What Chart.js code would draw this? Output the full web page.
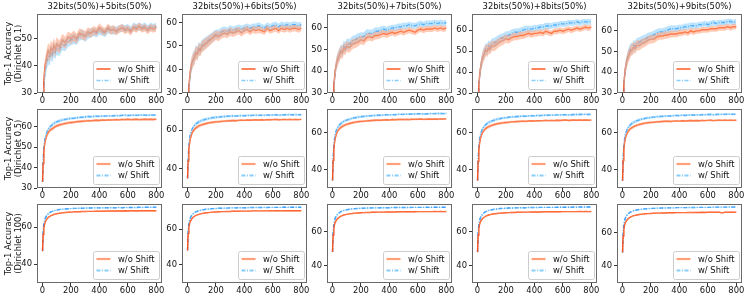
<!DOCTYPE html>
<html>
<head>
<meta charset="utf-8">
<script src="https://cdn.jsdelivr.net/npm/chart.js@4.4.0/dist/chart.umd.min.js"></script>
<style>
  body { margin: 0; background: #fff; width: 747px; height: 299px; position: relative; overflow: hidden; }
  canvas { position: absolute; }
</style>
</head>
<body>
<script>
// epochs sampled from the curves
const EPOCHS = [1, 5, 10, 15, 20, 30, 40, 50, 60, 70, 80, 90, 100,
  120, 140, 160, 180, 200, 220, 240, 260, 280, 300,
  320, 340, 360, 380, 400, 420, 440, 460, 480, 500,
  520, 540, 560, 580, 600, 620, 640, 660, 680, 700,
  720, 740, 760, 780, 800];

const TITLES = ['32bits(50%)+5bits(50%)', '32bits(50%)+6bits(50%)', '32bits(50%)+7bits(50%)',
  '32bits(50%)+8bits(50%)', '32bits(50%)+9bits(50%)'];
const ROW_LABELS = ['(Dirichlet 0.1)', '(Dirichlet 0.5)', '(Dirichlet 100)'];
const X_TICKS = [0, 200, 400, 600, 800];

// ---- Dirichlet 0.1 ----
const R1C1_WO = [22, 29, 34, 38, 40.5, 43, 45.5, 44.5, 46.5, 45.5, 47.5, 46, 48,
  47, 49.5, 48.5, 50.5, 50, 51, 50, 52, 51.5, 51,
  52.5, 52, 53, 52.5, 54, 53, 52.5, 54, 53, 53.5,
  52.5, 53.5, 54, 53, 53.5, 52.5, 54, 53.5, 54.5, 53.5,
  54, 53, 54, 53.5, 54];
const R1C1_WS = [21, 27.5, 32, 36, 38.5, 41.5, 43.5, 43, 45, 44, 46, 45, 46.5,
  46, 48, 47.5, 49, 49.5, 50, 49.5, 51, 51.5, 50.5,
  51.5, 52, 52.5, 52, 53, 52.5, 52, 53.5, 53, 53,
  53, 53.5, 54, 53.5, 54, 53, 54.5, 54, 54.5, 54,
  54.5, 53.5, 54.5, 54, 54.5];
const R1C2_WO = [20, 27, 32, 36, 39, 42.5, 44, 45, 47, 46.5, 48.5, 48, 49.5,
  50.5, 51.5, 52.5, 53.5, 54.5, 54, 55, 55.5, 55, 56,
  55.5, 56, 56.5, 55.5, 56.5, 57, 56, 57, 56.5, 57,
  56.5, 56, 57.5, 56.5, 57, 57.5, 56.5, 57.5, 57, 57.5,
  57, 57.5, 57.5, 57, 57.5];
const R1C2_WS = [19, 26, 31, 35, 38.5, 42, 44.5, 45.5, 47.5, 47, 49, 48.5, 50,
  51, 52, 53, 54, 55, 55, 56, 56.5, 56, 57,
  56.5, 57, 57.5, 57, 57.5, 58, 57.5, 58, 58, 58.5,
  58, 57.5, 58.5, 58, 58.5, 59, 58, 59, 58.5, 59,
  58.5, 59, 59, 58.5, 59];
const R1C3_WO = [20, 28, 33, 37, 40.5, 44, 46, 47.5, 49, 48.5, 50.5, 50, 51.5,
  51, 52.5, 53, 53.5, 54.5, 54, 55.5, 56, 55.5, 56.5,
  56.5, 57, 57.5, 57, 57.5, 58, 57.5, 58, 58.5, 58,
  58.5, 59, 58.5, 58, 59, 59.5, 59, 59.5, 59.5, 59.5,
  60, 59.5, 60, 59.5, 60];
const R1C3_WS = [19, 27, 32, 36.5, 40, 44, 46.5, 48, 49.5, 49.5, 51.5, 51, 52.5,
  52.5, 54, 54.5, 55.5, 56, 56, 57.5, 57.5, 57.5, 58.5,
  58.5, 59, 59.5, 59, 59.5, 60, 60, 60.5, 60.5, 61,
  61, 61.5, 61, 61, 61.5, 62, 61.5, 62, 62, 62,
  62.5, 62, 62.5, 62, 62.5];
const R1C4_WO = [20, 28, 33.5, 38, 41, 45, 47.5, 49, 50.5, 50, 51.5, 51, 52.5,
  52.5, 53.5, 54.5, 55, 56, 55.5, 56.5, 57, 57, 57.5,
  57.5, 58, 58.5, 58, 58.5, 58.5, 59, 58.5, 59.5, 59,
  58.5, 59.5, 59.5, 60, 59.5, 60, 60.5, 60, 60.5, 61,
  60.5, 61, 61.5, 61, 61.5];
const R1C4_WS = [19, 27, 33, 37.5, 41, 45, 48, 49.5, 51, 51, 52.5, 52, 53.5,
  54, 55, 56, 56.5, 57.5, 57.5, 58.5, 59, 59, 59.5,
  60, 60.5, 60.5, 60.5, 61, 61, 61.5, 61.5, 62, 62,
  62, 62.5, 62.5, 63, 63, 63, 63.5, 63.5, 63.5, 64,
  63.5, 64, 64, 64, 64];
const R1C5_WO = [20, 28, 33.5, 38, 41.5, 45, 47.5, 49, 50.5, 51, 52, 51.5, 53,
  53, 54, 54.5, 55.5, 56, 56, 57, 57.5, 57.5, 58,
  58, 58.5, 58.5, 58.5, 59, 59, 59.5, 59, 60, 59.5,
  60, 60, 60.5, 60.5, 60.5, 61, 61, 61, 61.5, 61.5,
  61.5, 62, 61.5, 62, 62];
const R1C5_WS = [19, 27.5, 33, 38, 41.5, 45.5, 48, 50, 51.5, 51.5, 53, 52.5, 54,
  54.5, 55.5, 56, 57, 57.5, 58, 59, 59.5, 59.5, 60,
  60.5, 61, 61, 61, 61.5, 61.5, 62, 62, 62.5, 62.5,
  62.5, 63, 63, 63.5, 63, 63.5, 64, 63.5, 64, 64,
  64, 64.5, 64.5, 64, 64.5];

// ---- Dirichlet 0.5 ----
const R2C1_WO = [33, 42, 47.5, 51, 53, 55.5, 57, 58, 58.5, 59, 59.5, 60, 60.3,
  60.8, 61.2, 61.5, 61.8, 62, 62.1, 62.4, 62.5, 62.6, 62.7,
  62.9, 62.8, 63, 63.1, 63, 63.2, 63.1, 63.3, 63.2, 63.3,
  63.4, 63.3, 63.5, 63.4, 63.6, 63.4, 63.5, 63.6, 63.4, 63.5,
  63.6, 63.5, 63.6, 63.5, 63.6];
const R2C1_WS = [33, 43, 49, 52.5, 54.5, 57, 58.5, 59.5, 60.3, 61, 61.5, 62, 62.3,
  62.8, 63.2, 63.5, 63.8, 64, 64.1, 64.3, 64.5, 64.6, 64.7,
  64.9, 64.8, 65, 65.1, 65, 65.2, 65.1, 65.3, 65.2, 65.3,
  65.4, 65.3, 65.5, 65.6, 65.4, 65.5, 65.6, 65.5, 65.6, 65.7,
  65.6, 65.5, 65.7, 65.6, 65.7];
const R2C2_WO = [35, 44, 50, 53, 55.5, 58, 59.5, 60.5, 61.2, 61.7, 62.2, 62.5, 62.8,
  63.2, 63.6, 63.9, 64.1, 64.3, 64.4, 64.6, 64.7, 64.8, 64.9,
  65, 64.9, 65.1, 65.2, 65.1, 65.3, 65.2, 65.3, 65.4, 65.3,
  65.4, 65.3, 65.5, 65.4, 65.5, 65.6, 65.4, 65.5, 65.6, 65.5,
  65.6, 65.5, 65.6, 65.5, 65.6];
const R2C2_WS = [35, 45, 51.5, 55, 57.5, 60, 61.5, 62.5, 63.2, 63.8, 64.3, 64.7, 65,
  65.5, 65.9, 66.2, 66.5, 66.7, 66.8, 67, 67.1, 67.2, 67.3,
  67.4, 67.3, 67.5, 67.6, 67.5, 67.7, 67.6, 67.7, 67.8, 67.7,
  67.8, 67.7, 67.9, 67.8, 67.9, 68, 67.8, 67.9, 68, 68,
  68.1, 68, 68.1, 68, 68.1];
const R2C3_WO = [34, 45, 51, 54.5, 57, 59.5, 61, 62, 62.7, 63.2, 63.6, 64, 64.3,
  64.8, 65.2, 65.5, 65.7, 65.9, 66, 66.2, 66.3, 66.4, 66.5,
  66.6, 66.5, 66.7, 66.8, 66.7, 66.9, 66.8, 66.9, 67, 66.9,
  67, 66.9, 67.1, 67, 67.1, 67.2, 67, 67.1, 67.2, 67.1,
  67.2, 67.1, 67.3, 67.2, 67.3];
const R2C3_WS = [34, 46, 52.5, 56.5, 59, 61.5, 63, 64, 64.8, 65.4, 65.9, 66.3, 66.6,
  67.1, 67.6, 67.9, 68.2, 68.4, 68.6, 68.8, 68.9, 69, 69.1,
  69.2, 69.2, 69.4, 69.5, 69.4, 69.6, 69.5, 69.7, 69.7, 69.7,
  69.8, 69.8, 69.9, 69.9, 70, 70, 69.9, 70, 70.1, 70.1,
  70.1, 70.2, 70.2, 70.1, 70.2];
const R2C4_WO = [34, 44.5, 50.5, 54, 56.5, 59, 60.6, 61.6, 62.3, 62.8, 63.2, 63.6, 63.9,
  64.4, 64.8, 65.1, 65.3, 65.5, 65.6, 65.8, 65.9, 66, 66.1,
  66.2, 66.1, 66.3, 66.4, 66.3, 66.5, 66.4, 66.5, 66.6, 66.5,
  66.6, 66.5, 66.7, 66.6, 66.7, 66.8, 66.6, 66.7, 66.8, 66.7,
  66.8, 66.7, 66.8, 66.7, 66.8];
const R2C4_WS = [34, 45.5, 52, 56, 58.5, 61, 62.6, 63.6, 64.4, 65, 65.5, 65.9, 66.2,
  66.8, 67.3, 67.6, 67.9, 68.1, 68.3, 68.5, 68.6, 68.7, 68.8,
  68.9, 68.9, 69.1, 69.2, 69.1, 69.3, 69.2, 69.4, 69.4, 69.4,
  69.5, 69.5, 69.6, 69.6, 69.7, 69.7, 69.6, 69.7, 69.8, 69.8,
  69.8, 69.9, 69.9, 69.8, 69.9];
const R2C5_WO = [34, 45, 51, 54.5, 57, 59.3, 60.8, 61.8, 62.5, 63, 63.4, 63.8, 64.1,
  64.6, 65, 65.3, 65.5, 65.7, 65.8, 66, 66.1, 66.2, 66.3,
  66.3, 66.2, 66.4, 66.5, 66.4, 66.6, 66.5, 66.6, 66.7, 66.6,
  66.7, 66.6, 66.8, 66.7, 66.8, 66.9, 66.7, 66.8, 66.9, 66.8,
  66.9, 66.8, 66.9, 66.8, 66.9];
const R2C5_WS = [34, 46, 52.5, 56.3, 58.8, 61.3, 62.9, 63.9, 64.7, 65.3, 65.8, 66.2, 66.5,
  67.1, 67.6, 67.9, 68.2, 68.4, 68.6, 68.8, 68.9, 69, 69.1,
  69.2, 69.2, 69.4, 69.5, 69.4, 69.6, 69.5, 69.7, 69.7, 69.7,
  69.8, 69.8, 69.9, 69.9, 70, 70, 69.9, 70, 70.1, 70.1,
  70.1, 70.2, 70.2, 70.1, 70.2];

// ---- Dirichlet 100 ----
const R3C1_WO = [47, 56, 59.5, 61.5, 62.8, 64.3, 65.2, 65.8, 66.3, 66.6, 66.9, 67.1, 67.3,
  67.6, 67.8, 68, 68.1, 68.2, 68.3, 68.4, 68.4, 68.5, 68.5,
  68.6, 68.6, 68.6, 68.7, 68.7, 68.7, 68.7, 68.8, 68.8, 68.8,
  68.8, 68.8, 68.8, 68.9, 68.8, 68.9, 68.9, 68.8, 68.9, 68.9,
  68.9, 68.9, 68.9, 68.9, 68.9];
const R3C1_WS = [47, 57.5, 61.5, 63.5, 64.8, 66.3, 67.2, 67.8, 68.3, 68.6, 68.9, 69.1, 69.3,
  69.6, 69.8, 69.9, 70, 70.1, 70.2, 70.2, 70.3, 70.3, 70.4,
  70.4, 70.4, 70.5, 70.5, 70.5, 70.5, 70.6, 70.6, 70.6, 70.6,
  70.6, 70.7, 70.6, 70.7, 70.7, 70.7, 70.7, 70.7, 70.8, 70.7,
  70.8, 70.8, 70.8, 70.8, 70.8];
const R3C2_WO = [48, 57.5, 61, 63, 64.3, 65.8, 66.7, 67.3, 67.8, 68.1, 68.4, 68.6, 68.8,
  69.1, 69.3, 69.5, 69.6, 69.7, 69.8, 69.9, 69.9, 70, 70,
  70.1, 70.1, 70.1, 70.2, 70.2, 70.2, 70.2, 70.3, 70.3, 70.3,
  70.3, 70.3, 70.3, 70.4, 70.3, 70.4, 70.4, 70.3, 70.4, 70.4,
  70.4, 70.4, 70.4, 70.4, 70.4];
const R3C2_WS = [48, 59, 63, 65, 66.3, 67.8, 68.7, 69.3, 69.8, 70.1, 70.4, 70.6, 70.8,
  71.1, 71.3, 71.5, 71.6, 71.7, 71.8, 71.8, 71.9, 71.9, 72,
  72, 72, 72.1, 72.1, 72.1, 72.1, 72.2, 72.2, 72.2, 72.2,
  72.2, 72.3, 72.2, 72.3, 72.3, 72.3, 72.3, 72.3, 72.4, 72.3,
  72.4, 72.4, 72.4, 72.4, 72.4];
const R3C3_WO = [48, 58, 62, 64.2, 65.5, 67, 68, 68.6, 69.1, 69.5, 69.8, 70, 70.2,
  70.5, 70.7, 70.9, 71, 71.1, 71.2, 71.3, 71.3, 71.4, 71.4,
  71.5, 71.5, 71.5, 71.6, 71.6, 71.6, 71.6, 71.7, 71.7, 71.7,
  71.7, 71.7, 71.8, 71.7, 71.8, 71.8, 71.8, 71.8, 71.8, 71.8,
  71.9, 71.8, 71.9, 71.8, 71.9];
const R3C3_WS = [48, 59.5, 64, 66.5, 68, 69.6, 70.6, 71.3, 71.8, 72.2, 72.5, 72.7, 72.9,
  73.2, 73.4, 73.6, 73.7, 73.8, 73.8, 73.9, 73.9, 74, 74,
  74, 74.1, 74.1, 74.1, 74.1, 74.2, 74.2, 74.2, 74.2, 74.2,
  74.3, 74.2, 74.3, 74.3, 74.3, 74.3, 74.3, 74.4, 74.3, 74.4,
  74.4, 74.4, 74.4, 74.4, 74.4];
const R3C4_WO = [48, 58, 62, 64.3, 65.7, 67.2, 68.2, 68.8, 69.3, 69.7, 70, 70.2, 70.4,
  70.7, 70.9, 71.1, 71.2, 71.3, 71.4, 71.5, 71.5, 71.6, 71.6,
  71.7, 71.7, 71.7, 71.8, 71.8, 71.8, 71.8, 71.9, 71.9, 71.9,
  71.9, 71.9, 72, 71.9, 72, 72, 72, 72, 72, 72,
  72.1, 72, 72.1, 72, 72.1];
const R3C4_WS = [48, 59.5, 64, 66.6, 68.2, 69.8, 70.8, 71.5, 72, 72.4, 72.7, 72.9, 73.1,
  73.4, 73.6, 73.8, 73.9, 74, 74.1, 74.1, 74.2, 74.2, 74.3,
  74.3, 74.3, 74.4, 74.4, 74.4, 74.4, 74.5, 74.5, 74.5, 74.5,
  74.5, 74.5, 74.6, 74.6, 74.6, 74.6, 74.6, 74.6, 74.7, 74.6,
  74.7, 74.7, 74.7, 74.7, 74.7];
const R3C5_WO = [48, 58, 62, 64.4, 65.8, 67.3, 68.3, 69, 69.5, 69.9, 70.2, 70.4, 70.6,
  70.9, 71.1, 71.3, 71.4, 71.5, 71.6, 71.7, 71.7, 71.8, 71.8,
  71.9, 71.9, 71.9, 72, 72, 72, 72, 72.1, 72.1, 72.1,
  72.1, 72.1, 72.2, 72.1, 72.2, 72.2, 72.2, 72.2, 72.2, 71.9,
  72.2, 72.2, 72.3, 72.2, 72.3];
const R3C5_WS = [48, 60, 64.5, 67, 68.6, 70.3, 71.3, 72, 72.5, 72.9, 73.2, 73.4, 73.6,
  73.9, 74.1, 74.3, 74.4, 74.5, 74.6, 74.7, 74.7, 74.8, 74.8,
  74.9, 74.9, 74.9, 75, 75, 75, 75, 75.1, 75.1, 75.1,
  75.1, 75.2, 75.2, 75.2, 75.2, 75.2, 75.3, 75.3, 75.3, 75.3,
  75.3, 75.3, 75.4, 75.3, 75.4];

// spread (std) of the runs, per row
const STD_R1 = [3, 3, 3, 3, 3, 3, 3, 3, 2.8, 2.8, 2.7, 2.6, 2.5,
  2.4, 2.3, 2.2, 2.1, 2, 2, 1.9, 1.8, 1.8, 1.8,
  1.7, 1.7, 1.6, 1.6, 1.6, 1.5, 1.5, 1.5, 1.5, 1.5,
  1.4, 1.4, 1.4, 1.4, 1.4, 1.4, 1.4, 1.4, 1.4, 1.4,
  1.4, 1.4, 1.4, 1.4, 1.4];
const STD_R2 = [1.5, 1.5, 1.4, 1.3, 1.2, 1.1, 1, 1, 0.9, 0.9, 0.9, 0.8, 0.8,
  0.8, 0.7, 0.7, 0.7, 0.7, 0.6, 0.6, 0.6, 0.6, 0.6,
  0.6, 0.6, 0.5, 0.5, 0.5, 0.5, 0.5, 0.5, 0.5, 0.5,
  0.5, 0.5, 0.5, 0.5, 0.5, 0.5, 0.5, 0.5, 0.5, 0.5,
  0.5, 0.5, 0.5, 0.5, 0.5];
const STD_R3 = [1, 0.8, 0.6, 0.5, 0.45, 0.4, 0.35, 0.3, 0.3, 0.3, 0.3, 0.3, 0.3,
  0.25, 0.25, 0.25, 0.25, 0.25, 0.25, 0.25, 0.25, 0.25, 0.25,
  0.25, 0.25, 0.25, 0.25, 0.25, 0.25, 0.25, 0.25, 0.25, 0.25,
  0.2, 0.2, 0.2, 0.2, 0.2, 0.2, 0.2, 0.2, 0.2, 0.2,
  0.2, 0.2, 0.2, 0.2, 0.2];

const Y_MIN = [30, 30, 29.7];
const Y_MAX = [[59, 63.5, 66.4, 67.7, 68.1], [68.6, 71, 72.6, 72.8, 73], [72.6, 74.2, 76.3, 76.5, 77.2]];
const Y_TICKS = [
  [[30, 40, 50], [30, 40, 50, 60], [30, 40, 50, 60], [30, 40, 50, 60], [30, 40, 50, 60]],
  [[30, 40, 50, 60], [40, 60], [40, 60], [40, 60], [40, 60]],
  [[40, 60], [40, 60], [40, 60], [40, 60], [40, 60]]
];

const WO = [[R1C1_WO, R1C2_WO, R1C3_WO, R1C4_WO, R1C5_WO],
  [R2C1_WO, R2C2_WO, R2C3_WO, R2C4_WO, R2C5_WO],
  [R3C1_WO, R3C2_WO, R3C3_WO, R3C4_WO, R3C5_WO]];
const WS = [[R1C1_WS, R1C2_WS, R1C3_WS, R1C4_WS, R1C5_WS],
  [R2C1_WS, R2C2_WS, R2C3_WS, R2C4_WS, R2C5_WS],
  [R3C1_WS, R3C2_WS, R3C3_WS, R3C4_WS, R3C5_WS]];
const STD = [STD_R1, STD_R2, STD_R3];

const LINE_WO = '#ff4d12', LINE_WS = '#1e90ff';
const BAND_WO = 'rgba(255,160,122,0.55)', BAND_WS = 'rgba(135,206,250,0.55)';
const DASHDOT = [4, 1.5, 1, 1.5];
const FONT = "'DejaVu Sans', sans-serif";

Chart.defaults.font.family = FONT;
Chart.defaults.font.size = 8.4;
Chart.defaults.color = '#111';

const PLOT_L = [37, 182, 327, 472, 617], PLOT_T = [14, 109, 204];
const PLOT_W = 125, PLOT_H = 79;

// box round the plot (matplotlib spines)
const framePlugin = {
  id: 'frame',
  afterDatasetsDraw(chart) {
    const { ctx, chartArea: a } = chart;
    ctx.save();
    ctx.strokeStyle = '#6a6a6a';
    ctx.lineWidth = 1;
    ctx.strokeRect(Math.round(a.left) + 0.5, Math.round(a.top) + 0.5,
      Math.round(a.right - a.left) - 1, Math.round(a.bottom - a.top) - 1);
    ctx.restore();
  }
};

// legend box in the lower right corner
const boxLegend = {
  id: 'boxLegend',
  afterDraw(chart, args, opts) {
    const { ctx, chartArea: a } = chart;
    const bw = 66, bh = 28;
    const x0 = Math.round(a.right) - 3 - bw, y0 = Math.round(a.bottom) - 4 - bh;
    ctx.save();
    ctx.fillStyle = 'rgba(255,255,255,0.8)';
    ctx.strokeStyle = '#cccccc';
    ctx.lineWidth = 1;
    ctx.beginPath();
    ctx.roundRect(x0 + 0.5, y0 + 0.5, bw, bh, 2);
    ctx.fill();
    ctx.stroke();
    const items = chart.data.datasets.filter(d => d.label);
    items.forEach((d, i) => {
      const y = y0 + 8 + i * 11.5;
      ctx.strokeStyle = opts.colors[i];
      ctx.lineWidth = opts.widths[i];
      ctx.setLineDash(d.borderDash || []);
      ctx.beginPath();
      ctx.moveTo(x0 + 3.5, y);
      ctx.lineTo(x0 + 17.5, y);
      ctx.stroke();
      ctx.setLineDash([]);
      ctx.fillStyle = '#111';
      ctx.font = '8.4px ' + FONT;
      ctx.textBaseline = 'middle';
      ctx.fillText(d.label, x0 + 25, y + 0.5);
    });
    ctx.restore();
  }
};

function makePanel(r, c) {
  const yw = c === 0 ? 37 : 30;
  const cv = document.createElement('canvas');
  cv.width = yw + PLOT_W + 12;
  cv.height = 14 + PLOT_H + 16;
  cv.style.left = (PLOT_L[c] - yw) + 'px';
  cv.style.top = (PLOT_T[r] - 14) + 'px';
  document.body.appendChild(cv);

  const wo = WO[r][c], ws = WS[r][c], sd = STD[r];
  const pts = (arr, k) => EPOCHS.map((e, i) => ({ x: e, y: arr[i] + k * sd[i] }));
  const band = { borderWidth: 0, pointRadius: 0 };

  new Chart(cv, {
    type: 'line',
    data: {
      datasets: [
        { ...band, data: pts(wo, 1), fill: '+1', backgroundColor: BAND_WO },
        { ...band, data: pts(wo, -1), fill: false },
        { ...band, data: pts(ws, 1), fill: '+1', backgroundColor: BAND_WS },
        { ...band, data: pts(ws, -1), fill: false },
        { label: 'w/o Shift', data: pts(wo, 0), borderColor: LINE_WO, borderWidth: 1.4, pointRadius: 0, fill: false },
        { label: 'w/ Shift', data: pts(ws, 0), borderColor: LINE_WS, borderWidth: 1.4, borderDash: DASHDOT, pointRadius: 0, fill: false }
      ]
    },
    options: {
      responsive: false,
      animation: false,
      devicePixelRatio: 1,
      layout: { padding: { top: r === 0 ? 0 : 14, right: 12, left: 0, bottom: 0 } },
      elements: { line: { tension: 0 } },
      plugins: {
        legend: { display: false },
        tooltip: { enabled: false },
        title: {
          display: r === 0, text: TITLES[c], color: '#111', fullSize: false,
          font: { size: 8.4, weight: 'normal' }, padding: { top: 2, bottom: 2 }
        },
        boxLegend: r === 0
          ? { colors: [LINE_WO, '#87cefa'], widths: [1.4, 1.4] }
          : { colors: ['#ffa07a', '#87cefa'], widths: [2.2, 1.8] }
      },
      scales: {
        x: {
          type: 'linear', min: -38, max: 840,
          afterBuildTicks: s => { s.ticks = X_TICKS.map(v => ({ value: v })); },
          afterFit: s => { s.height = 16; },
          grid: { drawOnChartArea: false, tickLength: 3, color: '#333' },
          border: { display: false },
          ticks: { padding: 0, color: '#111', maxRotation: 0 }
        },
        y: {
          type: 'linear', min: Y_MIN[r], max: Y_MAX[r][c],
          afterBuildTicks: s => { s.ticks = Y_TICKS[r][c].map(v => ({ value: v })); },
          afterFit: s => { s.width = yw; },
          grid: { drawOnChartArea: false, tickLength: 3, color: '#333' },
          border: { display: false },
          ticks: { padding: 2, color: '#111' },
          title: c === 0
            ? { display: true, text: ['Top-1 Accuracy', ROW_LABELS[r]], color: '#111',
                font: { size: 8.4 }, padding: { top: 4, bottom: 0 } }
            : { display: false }
        }
      }
    },
    plugins: [framePlugin, boxLegend]
  });
}

for (let r = 0; r < 3; r++) {
  for (let c = 0; c < 5; c++) makePanel(r, c);
}
</script>
</body>
</html>
